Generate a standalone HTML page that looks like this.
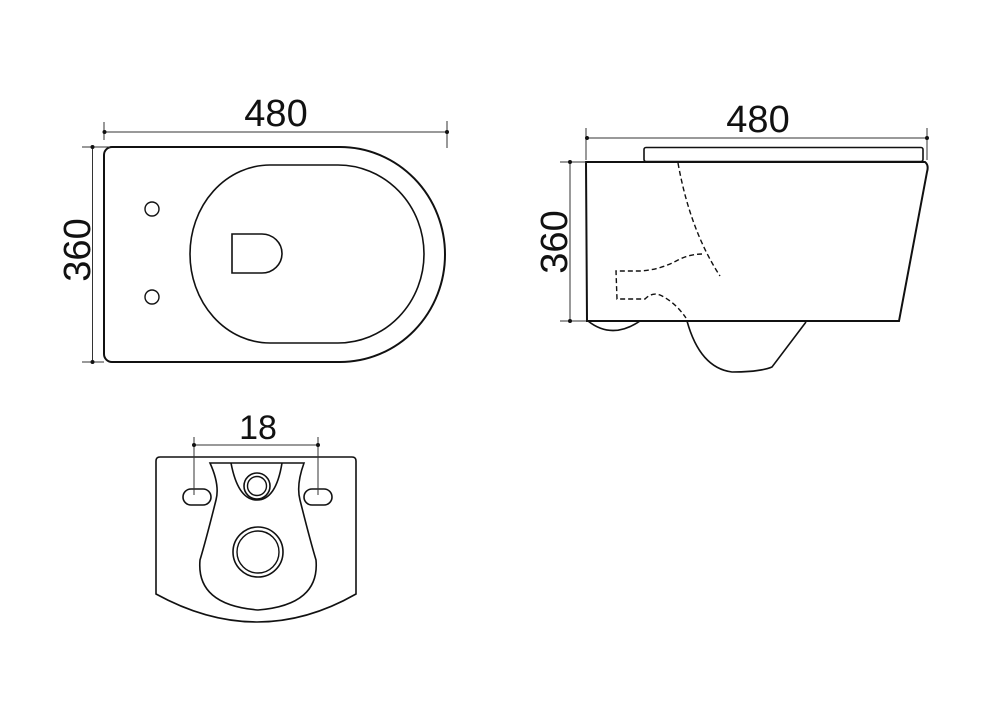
<!DOCTYPE html>
<html><head><meta charset="utf-8"><style>html,body{margin:0;padding:0;background:#fff}svg{display:block}text{font-family:"Liberation Sans",sans-serif;fill:#111}</style></head><body>
<svg width="1000" height="703" viewBox="0 0 1000 703" xmlns="http://www.w3.org/2000/svg">
<g fill="none" stroke="#111" stroke-width="2">
<!-- top view -->
<path d="M112,147 H340 A105,107.5 0 0 1 340,362 H112 A8,8 0 0 1 104,354 V155 A8,8 0 0 1 112,147 Z"/>
<path d="M270,165 H338 A86,89 0 0 1 338,343 H270 A80,89 0 0 1 270,165 Z" stroke-width="1.6"/>
<path d="M232,234 H262 A20,19.5 0 0 1 262,273 H232 Z" stroke-width="1.6"/>
<circle cx="152" cy="209" r="7" stroke-width="1.4"/>
<circle cx="152" cy="297" r="7" stroke-width="1.4"/>
<!-- side view -->
<rect x="644" y="147.5" width="279" height="14" rx="2" stroke-width="1.6"/>
<path d="M586,162 H925 Q929,165 927,172 L899,321 H587 Z"/>
<path d="M588,321 Q612,340 640,321" stroke-width="1.6"/>
<path d="M687,321 Q700,368 732,372 Q760,372 772,367 L806,322" stroke-width="1.6"/>
<g stroke-dasharray="5,3" stroke-width="1.4">
<path d="M678,163 Q690,230 720,276"/>
<path d="M702,254 Q690,254 678,260 Q660,270 640,271 H616 L617,299 H645 Q652,292 660,295 Q675,302 686,318"/>
</g>
<!-- bottom view -->
<path d="M160,457 H352 Q356,457 356,461 V594 Q258,650 156,594 V461 Q156,457 160,457 Z" stroke-width="1.6"/>
<path d="M210,463 H304 Q296,485 300,500 Q310,540 316,560 Q320,605 258,610 Q196,605 200,560 Q206,540 216,500 Q220,485 210,463 Z" stroke-width="1.6"/>
<path d="M231,463 Q238,500 257,500 Q276,500 282,463" stroke-width="1.6"/>
<circle cx="257" cy="486" r="13" stroke-width="1.6"/>
<circle cx="257" cy="486" r="9.5" stroke-width="1.4"/>
<circle cx="258" cy="552" r="25" stroke-width="1.6"/>
<circle cx="258" cy="552" r="21" stroke-width="1.4"/>
<rect x="183" y="489" width="28" height="16" rx="8" stroke-width="1.6"/>
<rect x="304" y="489" width="28" height="16" rx="8" stroke-width="1.6"/>
</g>
<g stroke="#333" stroke-width="1" fill="none">
<path d="M104,132 H447 M104,122 V140 M447,121 V148"/>
<path d="M92.5,147 V362 M82,147 H110 M82,362 H104"/>
<path d="M586,138 H927 M586,128 V160 M927,128 V160"/>
<path d="M570,162 V321 M560,162 H586 M560,321 H586"/>
<path d="M194,445 H318 M194,437 V495 M318,437 V495"/>
</g>
<g fill="#111">
<circle cx="104.5" cy="132" r="2"/><circle cx="447" cy="132" r="2"/>
<circle cx="92.5" cy="147" r="2"/><circle cx="92.5" cy="362" r="2"/>
<circle cx="587" cy="138" r="2"/><circle cx="927" cy="138" r="2"/>
<circle cx="570" cy="162" r="2"/><circle cx="570" cy="321" r="2"/>
<circle cx="194" cy="445" r="2"/><circle cx="318" cy="445" r="2"/>
</g>
<text x="276" y="126" font-size="38" text-anchor="middle">480</text>
<text x="758" y="132" font-size="38" text-anchor="middle">480</text>
<text transform="translate(90,250) rotate(-90)" font-size="38" text-anchor="middle">360</text>
<text transform="translate(567,242) rotate(-90)" font-size="38" text-anchor="middle">360</text>
<text x="258" y="439" font-size="34" text-anchor="middle">18</text>
</svg>
</body></html>
